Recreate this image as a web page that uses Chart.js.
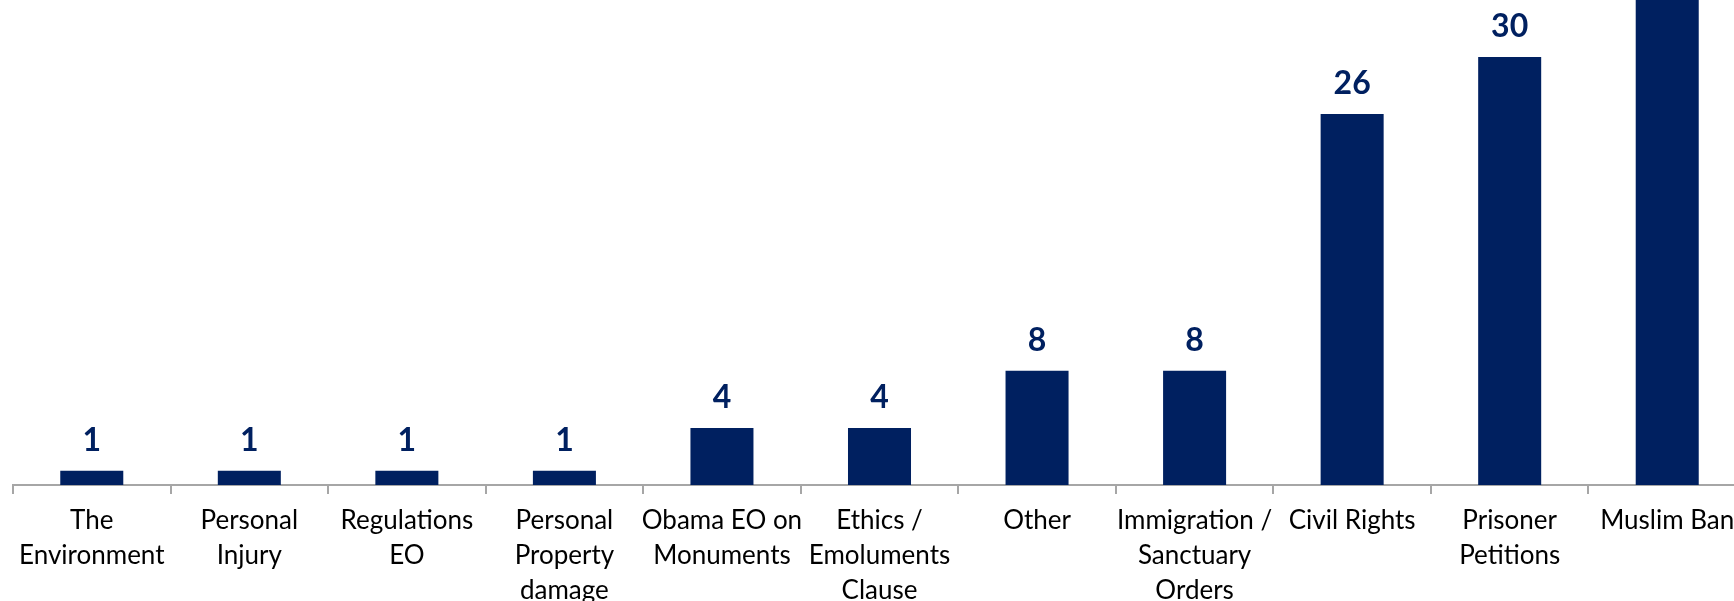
<!DOCTYPE html>
<html lang="en">

<head>
    <meta charset="UTF-8">
    <script src="https://cdn.jsdelivr.net/npm/chart.js"></script>
    <title>Cases by type</title>
    <style>
        body { margin: 0; overflow: hidden; background: #fff; }
        #wrap { position: absolute; left: 0; top: -200px; }
    </style>
</head>

<body>
    <div id="wrap">
        <canvas id="myChart" width="1760" height="801"></canvas>
    </div>
    <script>
        // categories (multi-line labels) and case counts
        const categories = [
            ['The', 'Environment'],
            ['Personal', 'Injury'],
            ['Regulations', 'EO'],
            ['Personal', 'Property', 'damage'],
            ['Obama EO on', 'Monuments'],
            ['Ethics /', 'Emoluments', 'Clause'],
            ['Other'],
            ['Immigration /', 'Sanctuary', 'Orders'],
            ['Civil Rights'],
            ['Prisoner', 'Petitions'],
            ['Muslim Ban']
        ];
        const cases = [1, 1, 1, 1, 4, 4, 8, 8, 26, 30, 40];
        const yMax = 45;

        const navy = '#002060';

        // value labels above each bar
        const valueLabels = {
            id: 'valueLabels',
            afterDatasetsDraw(chart) {
                const ctx = chart.ctx;
                const meta = chart.getDatasetMeta(0);
                ctx.save();
                ctx.font = 'bold 32px Lato';
                ctx.fillStyle = navy;
                ctx.textAlign = 'center';
                ctx.textBaseline = 'alphabetic';
                meta.data.forEach(function (bar, i) {
                    ctx.fillText(String(cases[i]), bar.x, bar.y - 20);
                });
                ctx.restore();
            }
        };

        let ctx = document.getElementById('myChart');
        let myChart = new Chart(ctx, {
            type: 'bar',
            data: {
                labels: categories,
                datasets: [{
                    data: cases,
                    backgroundColor: navy,
                    borderWidth: 0,
                    barPercentage: 0.4,
                    categoryPercentage: 1.0
                }]
            },
            options: {
                responsive: false,
                animation: false,
                layout: { padding: { top: 43, left: 13, right: 14, bottom: 0 } },
                plugins: {
                    legend: { display: false },
                    tooltip: { enabled: false }
                },
                scales: {
                    x: {
                        afterFit(scale) { scale.height = 116; },
                        border: { display: true, color: '#a6a6a6', width: 2 },
                        grid: {
                            display: true,
                            drawOnChartArea: false,
                            drawTicks: true,
                            tickLength: 9,
                            color: '#a6a6a6',
                            lineWidth: 2
                        },
                        ticks: {
                            color: '#000',
                            padding: 9,
                            maxRotation: 0,
                            autoSkip: false,
                            font: { family: 'Lato', size: 26, lineHeight: 1.35 }
                        }
                    },
                    y: {
                        display: false,
                        min: 0,
                        max: yMax
                    }
                }
            },
            plugins: [valueLabels]
        });
    </script>
</body>

</html>
